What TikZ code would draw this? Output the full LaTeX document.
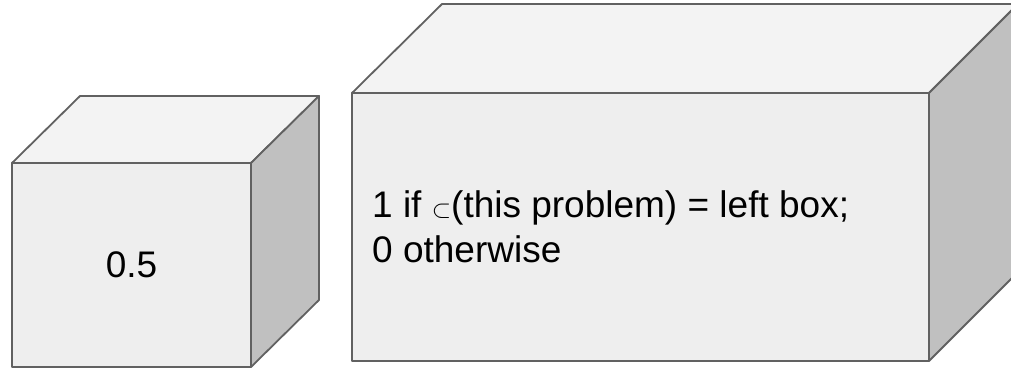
\documentclass[tikz,border=0pt]{standalone}
\usepackage{fontspec}
\setmainfont{Liberation Sans}
\usepackage{tikz}

\definecolor{frontgray}{HTML}{EEEEEE}
\definecolor{topgray}{HTML}{F3F3F3}
\definecolor{sidegray}{HTML}{C0C0C0}
\definecolor{edgegray}{HTML}{616161}

\begin{document}
\begin{tikzpicture}[x=1pt,y=-1pt,
    face/.style={draw=edgegray, line width=1.8pt, line join=round},
    label/.style={font=\fontsize{37}{45}\selectfont, text=black, align=left, inner sep=0pt}]
\clip (0,0) rectangle (1011,370);

% small cube
\draw[face, fill=topgray] (12,163) -- (80,96) -- (319,96) -- (251,163) -- cycle;
\draw[face, fill=sidegray] (251,163) -- (319,96) -- (319,300) -- (251,367) -- cycle;
\draw[face, fill=frontgray] (12,163) rectangle (251,367);
\node[label] (half) at (131.5,265) {0.5};

% long box
\draw[face, fill=topgray] (352,93) -- (442,4) -- (1018,4) -- (929,93) -- cycle;
\draw[face, fill=sidegray] (929,93) -- (1018,4) -- (1018,272) -- (929,361) -- cycle;
\draw[face, fill=frontgray] (352,93) rectangle (929,361);
\node[label, anchor=west] (rule) at (372,227)
  {1 if $\subset$(this problem) = left box;\\0 otherwise};
\end{tikzpicture}
\end{document}
